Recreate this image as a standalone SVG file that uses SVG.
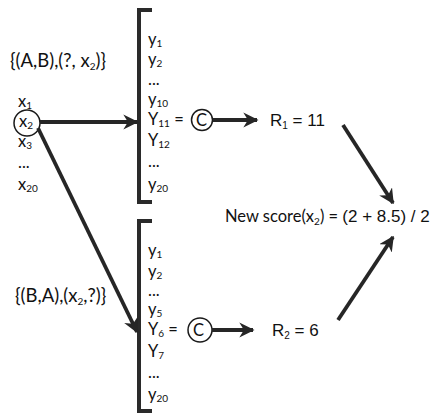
<svg xmlns="http://www.w3.org/2000/svg" width="435" height="415" viewBox="0 0 435 415">
<style>
text{font-family:Lato,"Open Sans","Liberation Sans",sans-serif;font-size:16.5px;fill:#111}
.a{font-family:"Liberation Sans",Arial,sans-serif;font-size:17px}
.s{font-size:10px}
.b{font-size:18.5px}
.ln{stroke:#262626;stroke-width:3.8;fill:none}
.br{stroke:#2a2a2a;stroke-width:4;fill:none}
.c{stroke:#1a1a1a;stroke-width:1.5;fill:none}
</style>
<defs>
<marker id="ah" viewBox="0 0 10 10" refX="9" refY="5" markerWidth="4" markerHeight="4" orient="auto" markerUnits="strokeWidth">
<path d="M0,0 L10,5 L0,10 L3,5 Z" fill="#262626"/>
</marker>
</defs>
<g id="left-labels">
<text class="b" x="10" y="67">{(A,B),(?, x<tspan class="s" dy="3">2</tspan><tspan dy="-3">)}</tspan></text>
<text class="b" x="15" y="302">{(B,A),(x<tspan class="s" dy="3">2</tspan><tspan dy="-3">,?)}</tspan></text>
</g>
<g id="x-list">
<text x="18" y="107">x<tspan class="s" dy="2">1</tspan></text>
<circle class="c" cx="27" cy="123" r="13"/>
<text x="19" y="127">x<tspan class="s" dy="2">2</tspan></text>
<text x="18" y="147">x<tspan class="s" dy="2">3</tspan></text>
<text x="18" y="168">...</text>
<text x="18" y="190">x<tspan class="s" dy="2">20</tspan></text>
</g>
<g id="top-bracket">
<path class="br" d="M152,10 H139 V202 H152"/>
<text x="148" y="45">y<tspan class="s" dy="2">1</tspan></text>
<text x="148" y="65">y<tspan class="s" dy="2">2</tspan></text>
<text x="148" y="85">...</text>
<text x="148" y="105">y<tspan class="s" dy="2">10</tspan></text>
<text x="148" y="125">Y<tspan class="s" dy="2">11</tspan><tspan dy="-2"> =</tspan></text>
<text x="148" y="146">Y<tspan class="s" dy="2">12</tspan></text>
<text x="148" y="167">...</text>
<text x="148" y="190">y<tspan class="s" dy="2">20</tspan></text>
</g>
<g id="top-c">
<circle class="c" cx="202" cy="120" r="10.5"/>
<text x="196" y="126">C</text>
</g>
<g id="bottom-bracket">
<path class="br" d="M152,221 H139 V411 H152"/>
<text x="148" y="256">y<tspan class="s" dy="2">1</tspan></text>
<text x="148" y="277">y<tspan class="s" dy="2">2</tspan></text>
<text x="148" y="296">...</text>
<text x="148" y="315">y<tspan class="s" dy="2">5</tspan></text>
<text x="148" y="335">Y<tspan class="s" dy="2">6</tspan><tspan dy="-2"> =</tspan></text>
<text x="148" y="357">Y<tspan class="s" dy="2">7</tspan></text>
<text x="148" y="378">...</text>
<text x="148" y="400">y<tspan class="s" dy="2">20</tspan></text>
</g>
<g id="bottom-c">
<circle class="c" cx="200" cy="330" r="12"/>
<text x="193" y="336">C</text>
</g>
<g id="r1"><text class="a" x="270" y="126">R<tspan class="s" dy="3">1</tspan><tspan dy="-3"> = 11</tspan></text></g>
<g id="r2"><text class="a" x="272" y="336">R<tspan class="s" dy="3">2</tspan><tspan dy="-3"> = 6</tspan></text></g>
<g id="new-score"><text x="225" y="222" font-size="17">New score(x<tspan class="s" dy="3">2</tspan><tspan dy="-3">) = </tspan><tspan class="a">(2 + 8.5) / 2</tspan></text></g>
<g id="connectors">
<line class="ln" x1="40" y1="122" x2="137" y2="122" marker-end="url(#ah)"/>
<line class="ln" x1="38" y1="128" x2="137" y2="332" marker-end="url(#ah)"/>
<line class="ln" x1="213" y1="120" x2="257" y2="120" marker-end="url(#ah)"/>
<line class="ln" x1="212" y1="330" x2="253" y2="330" marker-end="url(#ah)"/>
<line class="ln" x1="343" y1="125" x2="393" y2="203" marker-end="url(#ah)"/>
<line class="ln" x1="338" y1="320" x2="393" y2="237" marker-end="url(#ah)"/>
</g>
</svg>
